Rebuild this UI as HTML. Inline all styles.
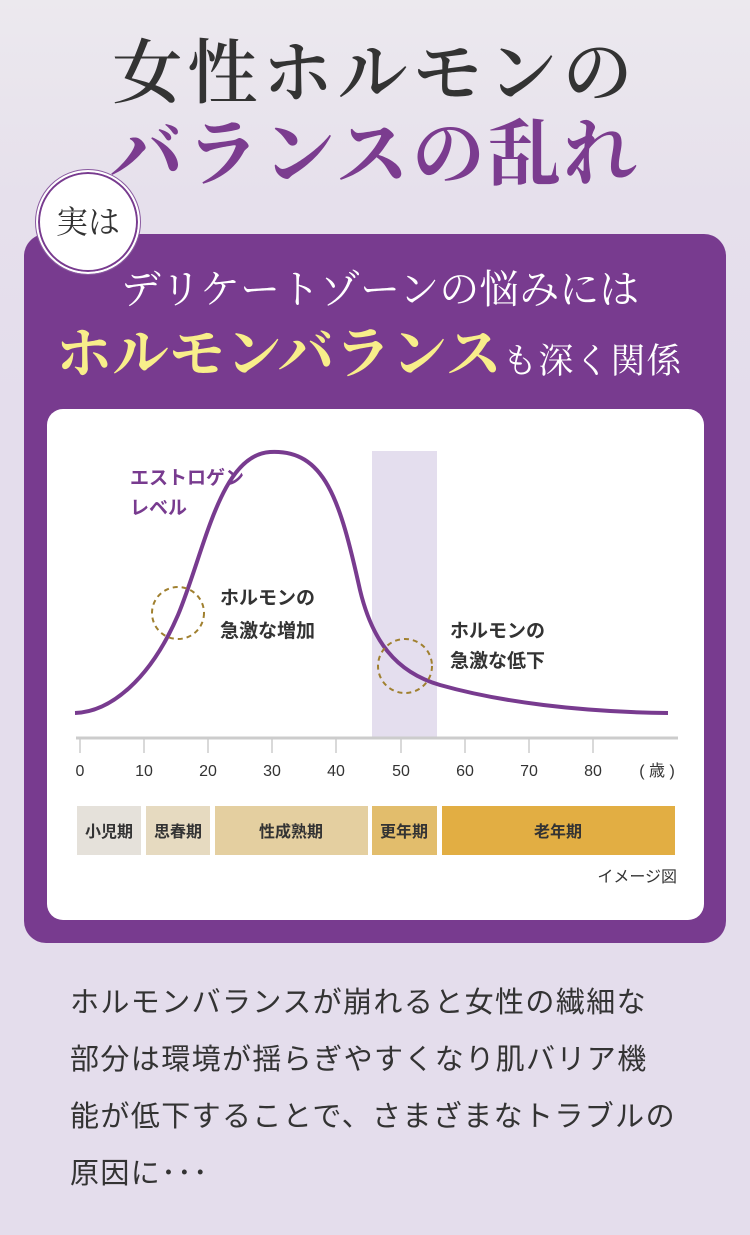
<!DOCTYPE html>
<html><head><meta charset="utf-8"><style>
*{margin:0;padding:0;box-sizing:border-box}
body{width:750px;height:1235px;position:relative;overflow:hidden;background:linear-gradient(#ece9ee 0,#e6e0ec 200px,#e4ddec 400px);font-family:"Liberation Sans","Noto Sans CJK JP",sans-serif}
.serif{font-family:"Liberation Serif","Noto Serif CJK SC",serif}
.abs{position:absolute}
</style></head><body>
<div class="abs serif" style="left:0;width:750px;top:30px;text-align:center;font-size:70px;color:#333;font-weight:600;letter-spacing:5px;line-height:90px">女性ホルモンの</div>
<div class="abs serif" style="left:0;width:750px;top:110px;text-align:center;font-size:73px;color:#7b3c8f;font-weight:700;letter-spacing:3px;line-height:90px">バランスの乱れ</div>
<div class="abs" style="left:24px;top:234px;width:702px;height:709px;background:#783b8f;border-radius:22px"></div>
<div class="abs serif" style="left:36px;top:170px;width:104px;height:104px;border-radius:50%;background:#fff;border:2px solid #fff;box-shadow:0 0 0 2px #783b8f inset, 0 0 0 5px #fff inset;outline:1px solid #8a5aa0;font-size:32px;color:#333;text-align:center;line-height:100px">実は</div>
<div class="abs serif" style="left:0;width:750px;top:262px;text-align:center;font-size:40px;color:#fff;line-height:56px;padding-left:10px">デリケートゾーンの悩みには</div>
<div class="abs serif" style="left:56px;top:320px;white-space:nowrap;line-height:70px"><span style="font-size:56px;color:#f8ee8a;font-weight:700;letter-spacing:0.5px">ホルモンバランス</span><span style="font-size:35px;color:#fff;letter-spacing:1px">も深く関係</span></div>
<div class="abs" style="left:47px;top:409px;width:657px;height:511px;background:#fff;border-radius:16px"></div>
<svg class="abs" style="left:0;top:0" width="750" height="1235">
<rect x="372" y="451" width="65" height="286" fill="#e4deee"/>
<line x1="76" y1="738" x2="678" y2="738" stroke="#ccc" stroke-width="3"/>
<g stroke="#ccc" stroke-width="1.5">
<line x1="80" y1="738" x2="80" y2="753"/><line x1="144" y1="738" x2="144" y2="753"/><line x1="208" y1="738" x2="208" y2="753"/><line x1="272" y1="738" x2="272" y2="753"/><line x1="336" y1="738" x2="336" y2="753"/><line x1="401" y1="738" x2="401" y2="753"/><line x1="465" y1="738" x2="465" y2="753"/><line x1="529" y1="738" x2="529" y2="753"/><line x1="593" y1="738" x2="593" y2="753"/></g>
<g font-size="16" fill="#333" text-anchor="middle" font-family="Liberation Sans,Noto Sans CJK JP,sans-serif">
<text x="80" y="776">0</text><text x="144" y="776">10</text><text x="208" y="776">20</text><text x="272" y="776">30</text><text x="336" y="776">40</text><text x="401" y="776">50</text><text x="465" y="776">60</text><text x="529" y="776">70</text><text x="593" y="776">80</text><text x="657" y="776">( 歳 )</text></g>
<path d="M75 713 C110 712 150 680 178 615 C205 550 220 455 270 452 C325 449 340 500 360 590 C372 640 395 672 440 685 C500 702 580 712 668 713" fill="none" stroke="#783b8f" stroke-width="4"/>
<circle cx="178" cy="613" r="26" fill="none" stroke="#a0802f" stroke-width="2" stroke-dasharray="5 4"/>
<circle cx="405" cy="666" r="27" fill="none" stroke="#a0802f" stroke-width="2" stroke-dasharray="5 4"/>
<g font-size="19" font-weight="700" font-family="Liberation Sans,Noto Sans CJK JP,sans-serif">
<text x="130" y="484" fill="#783b8f">エストロゲン</text><text x="130" y="514" fill="#783b8f">レベル</text>
<text x="220" y="604" fill="#333">ホルモンの</text><text x="220" y="637" fill="#333">急激な増加</text>
<text x="450" y="637" fill="#333">ホルモンの</text><text x="450" y="667" fill="#333">急激な低下</text></g>
<rect x="77" y="806" width="64" height="49" fill="#e5e1da"/>
<rect x="146" y="806" width="64" height="49" fill="#e6dac0"/>
<rect x="215" y="806" width="153" height="49" fill="#e4cfa0"/>
<rect x="372" y="806" width="65" height="49" fill="#e2bd6c"/>
<rect x="442" y="806" width="233" height="49" fill="#e2ae43"/>
<g font-size="16" font-weight="700" fill="#333" text-anchor="middle" font-family="Liberation Sans,Noto Sans CJK JP,sans-serif">
<text x="109" y="837">小児期</text><text x="178" y="837">思春期</text><text x="291" y="837">性成熟期</text><text x="404" y="837">更年期</text><text x="558" y="837">老年期</text></g>
<text x="677" y="882" font-size="16" fill="#333" text-anchor="end" font-family="Liberation Sans,Noto Sans CJK JP,sans-serif">イメージ図</text>
</svg>
<div class="abs" style="left:70px;top:975px;width:680px;font-size:29px;color:#333;line-height:57px;letter-spacing:1.4px;white-space:nowrap">ホルモンバランスが崩れると女性の繊細な<br>部分は環境が揺らぎやすくなり肌バリア機<br>能が低下することで、さまざまなトラブルの<br>原因に･･･</div>
</body></html>
